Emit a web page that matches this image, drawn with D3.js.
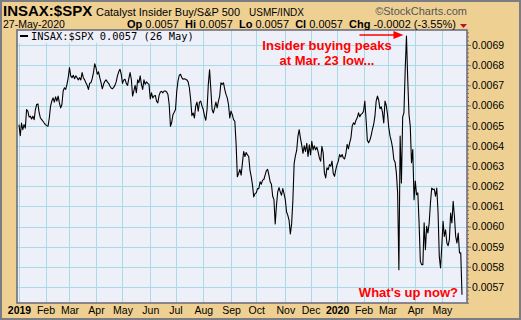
<!DOCTYPE html>
<html>
<head>
<meta charset="utf-8">
<script src="https://cdn.jsdelivr.net/npm/d3@7"></script>
<style>
  body { margin: 0; background: #fff; }
  svg text { font-family: "Liberation Sans", Arial, sans-serif; }
</style>
</head>
<body>
<div id="chart"></div>
<script>
// NYSE holidays in the period (trading days only are plotted)
const holidays = ['2019-01-01','2019-01-21','2019-02-18','2019-04-19','2019-05-27','2019-07-04',
    '2019-09-02','2019-11-28','2019-12-25','2020-01-01','2020-01-20','2020-02-17','2020-04-10','2020-05-25'];
const firstDay = '2019-01-02';
const lastDay = '2020-05-26';

// INSAX:$SPX daily close
const values = [
    .006505, .00645, .006513, .00648, .006505, .006488, .00658, .006572, .006543, .006547,
    .006533, .006547, .00653, .00658, .006605, .006608, .006563, .006538, .00653, .006522,
    .006513, .006505, .0065, .006497, .006538, .006597, .006622, .006638, .006617, .006643,
    .006622, .006647, .006613, .006588, .006605, .006672, .006688, .00668, .006705, .006738,
    .006788, .006747, .006738, .00675, .006733, .006747, .006738, .006727, .006738, .006727,
    .006763, .006738, .006727, .006713, .0067, .00668, .00671, .006713, .006733, .006763,
    .006807, .006788, .006755, .006767, .006738, .006713, .006683, .006705, .00672, .006727,
    .006717, .00671, .006697, .006687, .006683, .00669, .0067, .006717, .006747, .006767,
    .00678, .006755, .00671, .006727, .00673, .00671, .0067, .006733, .006763, .00673,
    .006647, .006672, .0067, .006663, .006727, .006713, .006747, .006705, .00668, .006727,
    .006705, .006717, .00671, .006705, .006633, .006663, .006638, .006647, .00665, .006622,
    .006613, .00665, .006667, .00667, .006663, .006672, .006672, .006667, .006655, .006605,
    .006497, .006517, .006555, .006567, .00658, .006672, .006722, .00675, .006755, .006738,
    .00673, .006733, .00673, .006727, .006717, .006688, .00663, .00655, .006563, .006538,
    .006597, .006617, .006572, .006617, .006622, .006597, .00658, .006547, .006527, .00658,
    .006705, .006777, .00668, .00658, .006563, .006588, .006617, .006588, .006622, .006647,
    .006713, .006705, .006713, .00668, .006655, .006638, .006605, .006538, .006572, .006555,
    .00653, .006522, .006413, .006247, .006263, .006283, .006255, .006313, .006372, .006347,
    .006367, .006355, .006347, .00628, .006247, .006205, .006147, .006163, .006167, .006188,
    .006188, .006222, .00621, .00623, .006233, .006255, .006277, .006283, .006255, .006222,
    .00621, .00615, .006133, .006013, .006105, .006172, .006193, .006172, .006155, .006188,
    .006163, .006133, .006072, .006055, .00603, .005963, .006013, .00613, .006313, .00635,
    .006377, .006447, .00648, .006438, .006405, .006363, .0064, .006372, .006413, .006347,
    .006405, .006355, .006422, .00638, .0064, .00638, .006393, .00637, .00634, .006324,
    .006398, .006365, .006266, .006241, .006291, .006282, .006307, .006299, .006324, .006263,
    .006249, .006282, .006307, .006324, .006357, .006345, .006357, .00634, .006335, .006362,
    .006407, .006385, .006415, .00644, .006498, .006514, .006506, .006527, .006539, .006564,
    .006544, .006556, .006561, .006572, .006622, .006531, .006428, .006415, .006428, .006451,
    .006481, .006506, .006547, .006622, .006647, .006627, .006584, .006594, .006567, .006514,
    .006622, .0066, .006556, .006489, .006448, .006423, .00639, .006332, .006319, .006266,
    .006167, .005786, .006448, .006216, .006544, .006564, .006779, .006945, .00673, .006556,
    .006498, .006316, .006382, .006133, .006225, .006158, .006167, .006018, .005827, .005811,
    .005811, .006018, .005885, .006001, .005968, .006018, .006117, .006191, .006183, .006186,
    .00615, .006191, .006075, .005852, .005794, .005902, .006026, .005951, .005984, .005918,
    .005905, .005935, .006067, .006018, .006125, .006051, .005951, .005918, .005968, .005869,
    .00587, .005662
];

const yTicks = [0.0057, 0.0058, 0.0059, 0.0060, 0.0061, 0.0062, 0.0063, 0.0064, 0.0065, 0.0066, 0.0067, 0.0068, 0.0069];
const monthLabels = ['2019','Feb','Mar','Apr','May','Jun','Jul','Aug','Sep','Oct','Nov','Dec',
    '2020','Feb','Mar','Apr','May'];
const peakDate = '2020-03-23';

// Build trading calendar
const parseDate = d3.timeParse('%Y-%m-%d');
const fmtDate = d3.timeFormat('%Y-%m-%d');
const holidaySet = new Set(holidays);
const tradingDays = d3.timeDay.range(parseDate(firstDay), d3.timeDay.offset(parseDate(lastDay), 1))
    .filter(d => d.getDay() !== 0 && d.getDay() !== 6 && !holidaySet.has(fmtDate(d)));

let series = values.map((v, i) => ({ i: i, date: tradingDays[i], value: v }));

// Index of first trading day in each month
let monthStarts = [];
tradingDays.forEach((d, i) => {
    if (i === 0 || d.getMonth() !== tradingDays[i - 1].getMonth()) monthStarts.push(i);
});

const W = 521, H = 320;
let margin = {top: 30, right: 54, bottom: 17, left: 17};
let width = W - margin.left - margin.right;
let height = H - margin.top - margin.bottom;

let svg = d3.select('#chart').append('svg')
    .attr('width', W)
    .attr('height', H);

// Tan background + outer frame
svg.append('rect')
    .attr('x', 1).attr('y', 1)
    .attr('width', W - 2).attr('height', H - 2)
    .attr('fill', '#efd093')
    .attr('stroke', '#7c7c84')
    .attr('stroke-width', 2);

let x = d3.scaleLinear()
    .domain([0, tradingDays.length - 1])
    .range([2, width - 5]);

let y = d3.scaleLinear()
    .domain([0.0056207, 0.0069744])
    .range([height, 0]);

let plot = svg.append('g')
    .attr('transform', 'translate(' + margin.left + ',' + margin.top + ')');

plot.append('rect')
    .attr('width', width).attr('height', height)
    .attr('fill', '#eef0f9');

// Grid
plot.append('g')
    .selectAll('line.hgrid')
    .data(yTicks)
    .enter().append('line')
    .attr('x1', 0).attr('x2', width)
    .attr('y1', d => Math.round(y(d)) + 0.5)
    .attr('y2', d => Math.round(y(d)) + 0.5)
    .attr('stroke', '#a9dbe7').attr('stroke-width', 1);

plot.append('g')
    .selectAll('line.vgrid')
    .data(monthStarts)
    .enter().append('line')
    .attr('x1', d => Math.round(x(d)) + 0.5)
    .attr('x2', d => Math.round(x(d)) + 0.5)
    .attr('y1', 0).attr('y2', height)
    .attr('stroke', '#a9dbe7').attr('stroke-width', 1);

// Legend box
plot.append('rect')
    .attr('x', 0).attr('y', 0)
    .attr('width', 180).attr('height', 13)
    .attr('fill', '#eef0f9');

// Price line
let line = d3.line()
    .x(d => x(d.i))
    .y(d => y(d.value));

plot.append('path')
    .datum(series)
    .attr('fill', 'none')
    .attr('stroke', '#000')
    .attr('stroke-width', 1.1)
    .attr('stroke-linejoin', 'round')
    .attr('d', line);

// Legend
plot.append('line')
    .attr('x1', 3).attr('x2', 11)
    .attr('y1', 6).attr('y2', 6)
    .attr('stroke', '#000').attr('stroke-width', 2);

plot.append('text')
    .attr('x', 14).attr('y', 10)
    .style('font-family', '"DejaVu Sans Mono", monospace')
    .style('font-size', '10.4px')
    .attr('fill', '#000')
    .text('INSAX:$SPX ' + d3.format('.4f')(values[values.length - 1]) + ' (' +
        d3.timeFormat('%-d %b')(tradingDays[tradingDays.length - 1]) + ')');

// Plot frame
plot.append('rect')
    .attr('width', width).attr('height', height)
    .attr('fill', 'none')
    .attr('stroke', '#6e6e7e')
    .attr('stroke-width', 1.6);

// Right axis
let minorTicks = d3.range(0.00562, 0.00698, 0.00002);
plot.append('g')
    .selectAll('line.minor')
    .data(minorTicks)
    .enter().append('line')
    .attr('x1', width).attr('x2', width + 2)
    .attr('y1', d => y(d)).attr('y2', d => y(d))
    .attr('stroke', '#6e6e7e').attr('stroke-width', 1);

let yAxis = plot.append('g')
    .attr('transform', 'translate(' + width + ',0)')
    .call(d3.axisRight(y).tickValues(yTicks).tickSize(4).tickPadding(1).tickFormat(d3.format('.4f')));
yAxis.select('.domain').remove();
yAxis.selectAll('line').attr('stroke', '#6e6e7e');
yAxis.selectAll('text')
    .style('font-size', '10.5px')
    .style('font-family', '"Liberation Sans", Arial, sans-serif')
    .attr('fill', '#000');

// Bottom axis
let xAxis = plot.append('g')
    .attr('transform', 'translate(0,' + height + ')')
    .call(d3.axisBottom(x).tickValues(monthStarts).tickSize(0).tickPadding(4)
        .tickFormat((d, i) => monthLabels[i]));
xAxis.select('.domain').remove();
xAxis.selectAll('text')
    .style('font-size', '10.5px')
    .style('font-family', '"Liberation Sans", Arial, sans-serif')
    .style('font-weight', (d, i) => monthLabels[i].length === 4 ? 'bold' : 'normal')
    .attr('fill', '#000');

// Header
let header = svg.append('g');
header.append('text')
    .attr('x', 3).attr('y', 16)
    .style('font-size', '15px').style('font-weight', 'bold')
    .text('INSAX:$SPX');
header.append('text')
    .attr('x', 96).attr('y', 16)
    .style('font-size', '11px')
    .text('Catalyst Insider Buy/S&P 500');
header.append('text')
    .attr('x', 249).attr('y', 16)
    .style('font-size', '10px')
    .text('USMF/INDX');
header.append('text')
    .attr('x', 467).attr('y', 15)
    .attr('text-anchor', 'end')
    .style('font-size', '11px')
    .attr('fill', '#555')
    .text('\u00A9StockCharts.com');
header.append('text')
    .attr('x', 3).attr('y', 28)
    .style('font-size', '10.5px')
    .text('27-May-2020');

let ohlc = [['Op', '0.0057'], ['Hi', '0.0057'], ['Lo', '0.0057'], ['Cl', '0.0057'], ['Chg', '-0.0002 (-3.55%)']];
let ohlcText = header.append('text')
    .attr('x', 456).attr('y', 28)
    .attr('text-anchor', 'end')
    .style('font-size', '11px')
    .style('white-space', 'pre');
ohlc.forEach((p, k) => {
    ohlcText.append('tspan').style('font-weight', 'bold').text((k > 0 ? '  ' : '') + p[0]);
    ohlcText.append('tspan').text(' ' + p[1]);
});
header.append('path')
    .attr('d', 'M460,24 L467,24 L463.5,28 Z')
    .attr('fill', '#c0102a');

// Annotations
let peakIdx = tradingDays.findIndex(d => fmtDate(d) === peakDate);
let tipX = margin.left + x(peakIdx) - 3;
let ann = svg.append('g').attr('fill', '#ff0000');
ann.append('line')
    .attr('x1', tipX - 44).attr('x2', tipX - 8)
    .attr('y1', 35).attr('y2', 35)
    .attr('stroke', '#ff0000').attr('stroke-width', 1.5);
ann.append('path')
    .attr('d', 'M' + (tipX - 10) + ',31 L' + tipX + ',35 L' + (tipX - 10) + ',39 Z');
ann.append('text')
    .attr('x', 327).attr('y', 50)
    .attr('text-anchor', 'middle')
    .style('font-size', '13px').style('font-weight', 'bold')
    .text('Insider buying peaks');
ann.append('text')
    .attr('x', 327).attr('y', 65)
    .attr('text-anchor', 'middle')
    .style('font-size', '13px').style('font-weight', 'bold')
    .text('at Mar. 23 low...');
ann.append('text')
    .attr('x', 458).attr('y', 297)
    .attr('text-anchor', 'end')
    .style('font-size', '13px').style('font-weight', 'bold')
    .text("What's up now?");
</script>
</body>
</html>
